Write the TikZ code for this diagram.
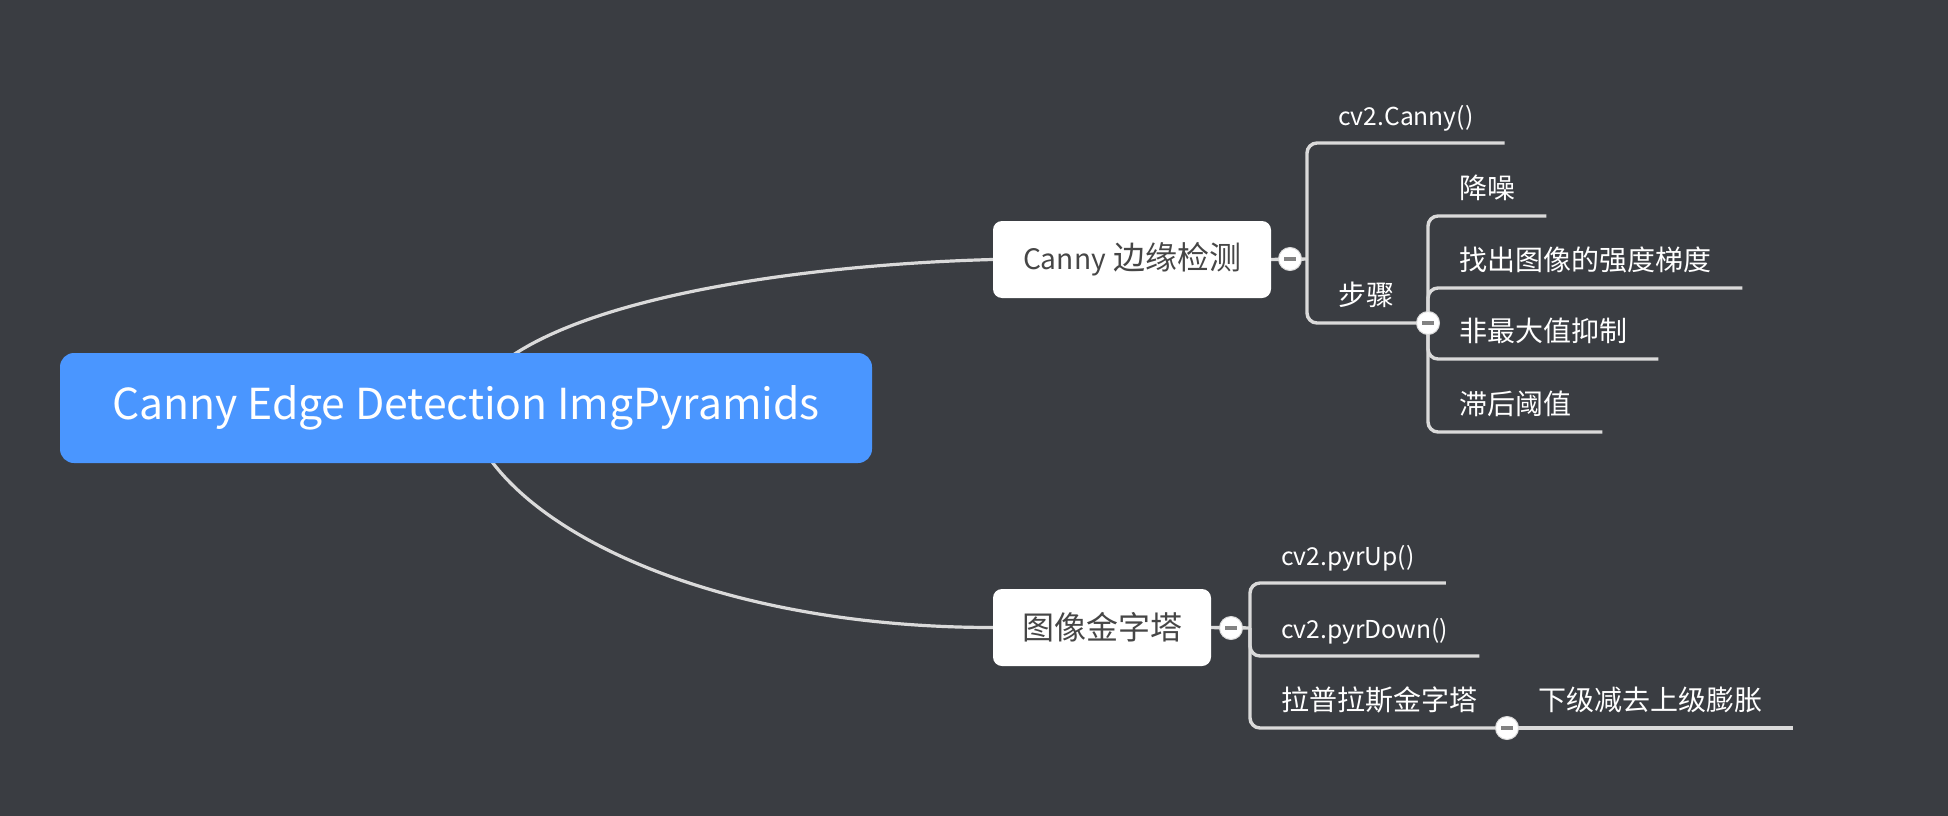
\documentclass[tikz,border=0pt]{standalone}
\usepackage{fontspec}
\setmainfont{Noto Sans CJK SC}
\newfontfamily\latinfont[Scale=0.88]{Noto Sans CJK SC}
\usetikzlibrary{backgrounds}

\definecolor{canvas}{RGB}{58,61,66}
\definecolor{rootblue}{RGB}{74,150,255}
\definecolor{linegray}{RGB}{218,218,218}
\definecolor{topictext}{RGB}{70,70,70}
\definecolor{foldbar}{RGB}{130,130,130}

\begin{document}
\begin{tikzpicture}[x=1pt,y=-1pt,
  root/.style={fill=rootblue, rounded corners=14pt, minimum width=812pt, minimum height=110pt,
    text=white, font=\fontsize{48.5}{58}\latinfont},
  topic/.style={fill=white, rounded corners=9pt, minimum height=77pt, inner xsep=0pt,
    text=topictext, font=\fontsize{32}{38}\selectfont},
  leaf/.style={anchor=south west, inner xsep=31pt, inner ysep=17pt, text depth=0pt,
    text=white, font=\fontsize{28}{34}\selectfont},
  fold/.style={circle, fill=white, draw=linegray, line width=1pt, minimum size=23pt, inner sep=0pt,
    path picture={\fill[foldbar] ([xshift=-6pt,yshift=-1.75pt]path picture bounding box.center)
      rectangle ++(12pt,3.5pt);}},
  curve/.style={draw=linegray, line width=3.2pt},
  branch/.style={draw=linegray, line width=3.4pt, rounded corners=10pt}]
\useasboundingbox (0,0) rectangle (1948,816);

% central topic and main branches
\node[root] (root) at (466,408) {Canny Edge Detection ImgPyramids};
\node[topic, minimum width=278pt] (canny) at (1132,259.5) {{\latinfont Canny} 边缘检测};
\node[topic, minimum width=218pt] (pyr) at (1102,627.5) {图像金字塔};

\coordinate (cannyjoin) at (1307,259);
\coordinate (pyrjoin) at (1250,628);
\node[fold] (cannyfold) at (1290,259) {};
\node[fold] (pyrfold) at (1231,628) {};

% canny subtopics
\node[leaf] (cvcanny) at (1307,143) {\latinfont cv2.Canny()};
\node[leaf] (steps) at (1307,323) {步骤};
\node[fold] (stepsfold) at (1428,323) {};
\node[leaf] (denoise) at (1428,216) {降噪};
\node[leaf] (gradient) at (1428,288) {找出图像的强度梯度};
\node[leaf] (nms) at (1428,359) {非最大值抑制};
\node[leaf] (hysteresis) at (1428,432) {滞后阈值};

% pyramid subtopics
\node[leaf] (pyrup) at (1250,583) {\latinfont cv2.pyrUp()};
\node[leaf] (pyrdown) at (1250,656) {\latinfont cv2.pyrDown()};
\node[leaf] (laplace) at (1250,728) {拉普拉斯金字塔};
\node[fold] (lapfold) at (1507,728) {};
\node[leaf] (lapnote) at (1507,728) {下级减去上级膨胀};

\begin{scope}[on background layer]
\fill[canvas] (0,0) rectangle (1948,816);
\draw[curve] (root.center) .. controls +(36,-100) and +(-220,6) .. (canny.west);
\draw[curve] (root.center) .. controls +(24,112) and +(-293,0) .. (pyr.west);

\draw[branch] (canny.east) -- (cannyjoin);
\draw[branch] (cannyjoin) |- (cvcanny.south east);
\draw[branch] (cannyjoin) |- (stepsfold.center);
\foreach \n in {denoise,gradient,nms,hysteresis}
  \draw[branch] (stepsfold.center) |- (\n.south east);

\draw[branch] (pyr.east) -- (pyrjoin);
\draw[branch] (pyrjoin) |- (pyrup.south east);
\draw[branch] (pyrjoin) |- (pyrdown.south east);
\draw[branch] (pyrjoin) |- (lapfold.center);
\draw[branch] (lapfold.center) -- (lapnote.south east);
\end{scope}
\end{tikzpicture}
\end{document}
